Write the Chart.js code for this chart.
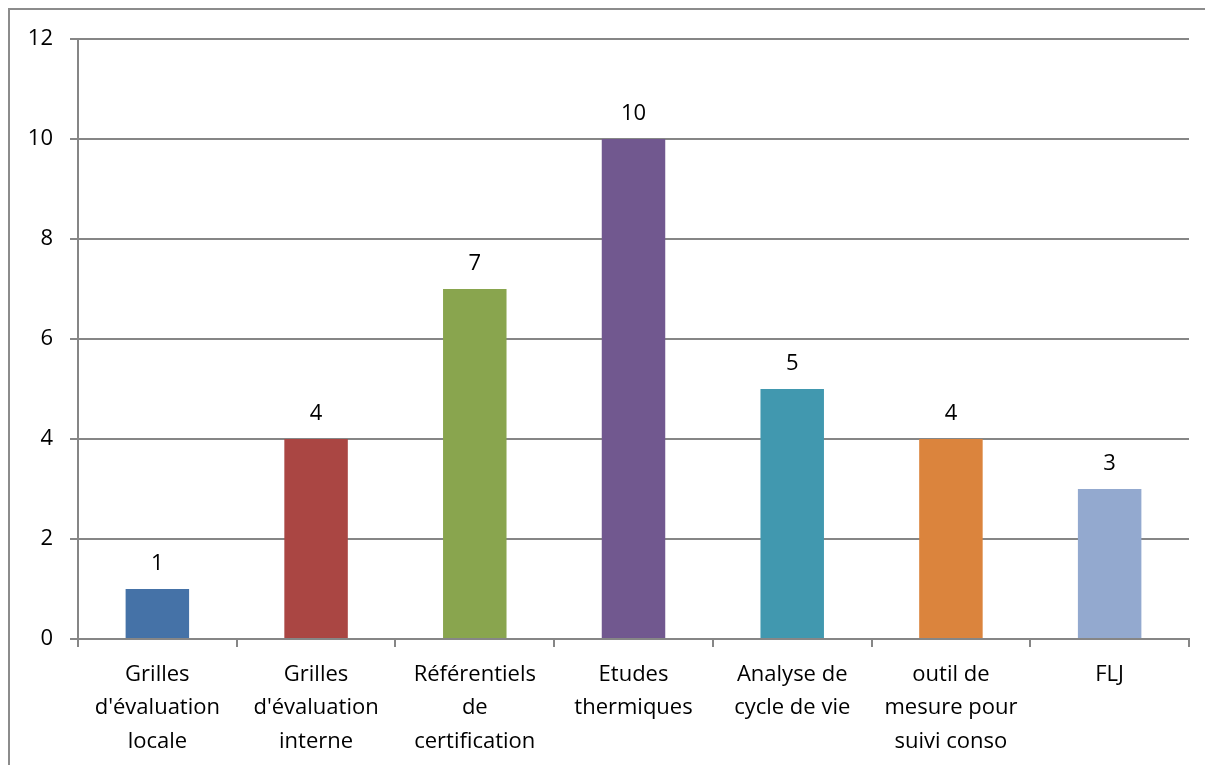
<!DOCTYPE html>
<html>
<head>
<meta charset="utf-8">
<script src="https://cdn.jsdelivr.net/npm/chart.js@4"></script>
<style>
  html, body { margin: 0; padding: 0; background: #fff; }
  #wrap { width: 1205px; height: 765px; position: relative; }
</style>
</head>
<body>
<div id="wrap"><canvas id="c" width="1205" height="765"></canvas></div>
<script>
const categories = [
  ["Grilles", "d'évaluation", "locale"],
  ["Grilles", "d'évaluation", "interne"],
  ["Référentiels", "de", "certification"],
  ["Etudes", "thermiques"],
  ["Analyse de", "cycle de vie"],
  ["outil de", "mesure pour", "suivi conso"],
  ["FLJ"]
];
const values = [1, 4, 7, 10, 5, 4, 3];
const barColors = ["#4572A7", "#AA4643", "#89A54E", "#71588F", "#4198AF", "#DB843D", "#93A9CF"];
const yTicks = { min: 0, max: 12, step: 2 };

const FONT = "'Open Sans', 'Liberation Sans', sans-serif";
const GRID = "#868686";

const frame = {
  id: 'frame',
  beforeDraw(chart) {
    const ctx = chart.ctx;
    ctx.save();
    ctx.fillStyle = '#fff';
    ctx.fillRect(0, 0, chart.width, chart.height);
    ctx.strokeStyle = '#8c8c8c';
    ctx.lineWidth = 2;
    ctx.strokeRect(9, 9, 1210, 780);
    ctx.restore();
  }
};

const valueLabels = {
  id: 'valueLabels',
  afterDatasetsDraw(chart) {
    const ctx = chart.ctx;
    const meta = chart.getDatasetMeta(0);
    ctx.save();
    ctx.font = "22px " + FONT;
    ctx.fillStyle = '#000';
    ctx.textAlign = 'center';
    ctx.textBaseline = 'middle';
    meta.data.forEach((bar, i) => {
      ctx.fillText(String(values[i]), bar.x, bar.y - 25);
    });
    ctx.restore();
  }
};

new Chart(document.getElementById('c'), {
  type: 'bar',
  data: {
    labels: categories,
    datasets: [{
      data: values,
      backgroundColor: barColors,
      borderWidth: 0,
      barPercentage: 0.4,
      categoryPercentage: 1.0
    }]
  },
  options: {
    responsive: false,
    animation: false,
    devicePixelRatio: 1,
    layout: { padding: { left: 0, right: 16, top: 39, bottom: 0 } },
    plugins: { legend: { display: false }, tooltip: { enabled: false } },
    scales: {
      x: {
        grid: { display: true, drawOnChartArea: false, drawTicks: true, tickLength: 8, color: GRID, lineWidth: 2, offset: true },
        border: { display: true, color: GRID, width: 2 },
        ticks: { color: '#000', font: { family: FONT, size: 22, lineHeight: 1.52 }, padding: 11, maxRotation: 0, autoSkip: false },
        afterFit(scale) { scale.height = 126; }
      },
      y: {
        min: yTicks.min, max: yTicks.max,
        grid: { color: GRID, lineWidth: 2, tickLength: 8, drawTicks: true },
        border: { display: true, color: GRID, width: 2 },
        ticks: { stepSize: yTicks.step, color: '#000', font: { family: FONT, size: 22 }, padding: 17 },
        afterFit(scale) { scale.width = 78; }
      }
    }
  },
  plugins: [frame, valueLabels]
});
</script>
</body>
</html>
